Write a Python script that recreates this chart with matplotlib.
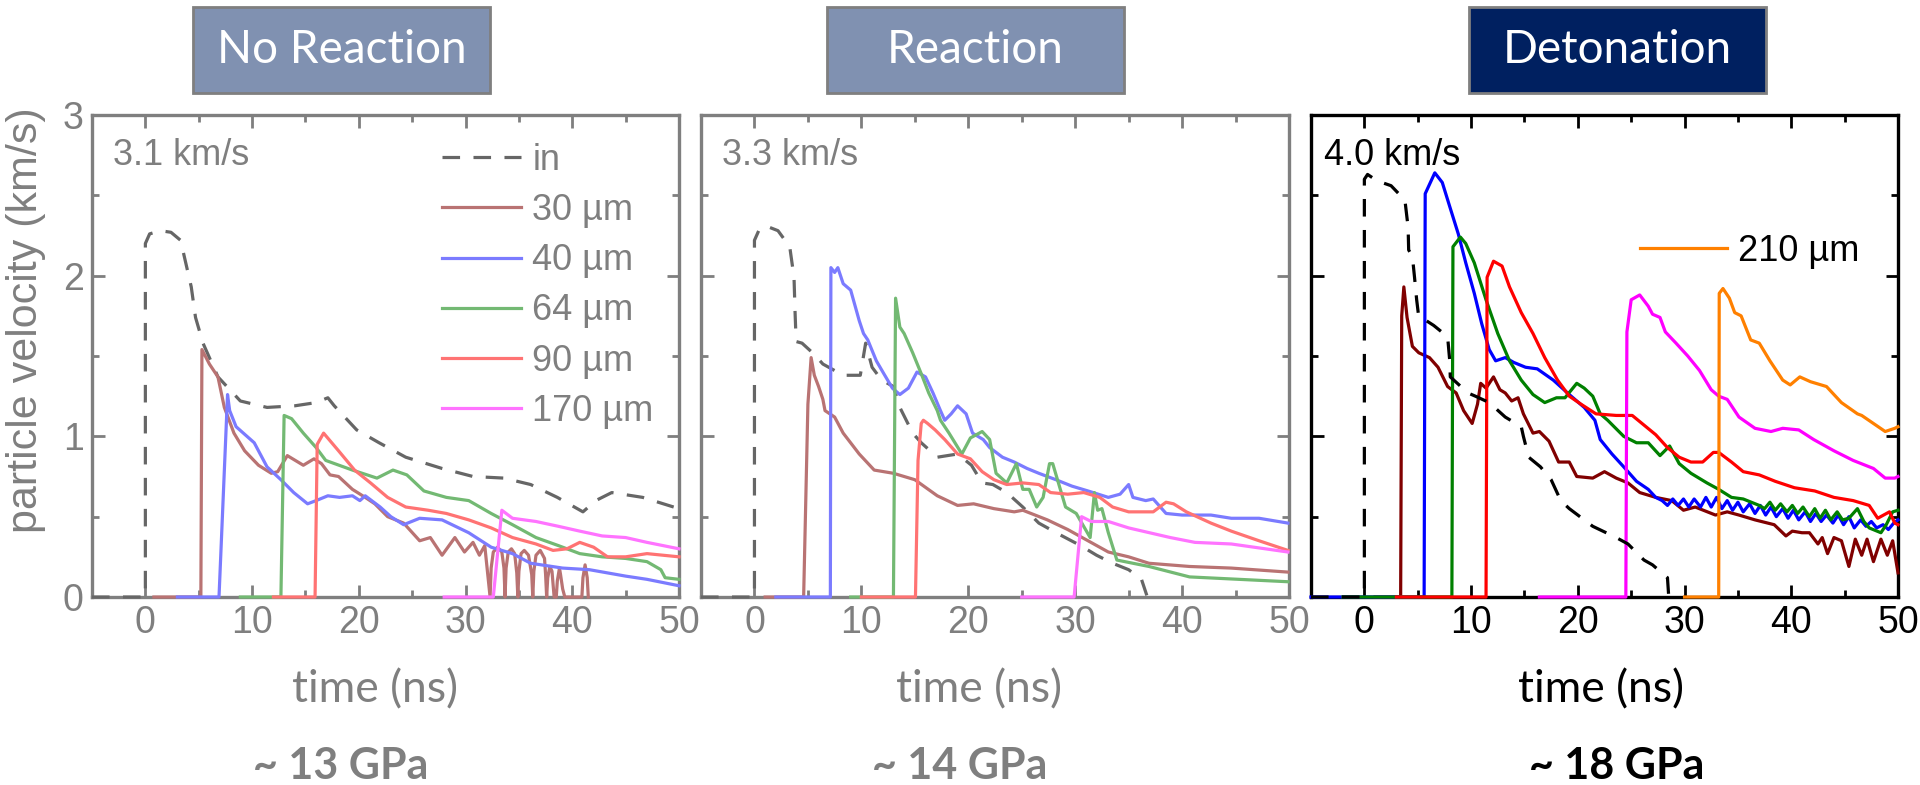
import matplotlib
matplotlib.use("Agg")
import matplotlib.pyplot as plt
from matplotlib.patches import Rectangle
from matplotlib.ticker import MultipleLocator

plt.rcParams["font.family"] = ["Liberation Sans", "DejaVu Sans"]

W, H = 1920, 785

# ---------------------------------------------------------------- data
# panel 1 : no reaction (3.1 km/s)
nr_in_t = [-5, 0, 0, 0.4, 1.4, 2.4, 3.3, 4.3, 4.7, 5.4, 6.8, 8.9, 11.4, 14.0, 16.0, 17.1,
           17.7, 19.8, 21.9, 24.4, 27.8, 30.7, 33.6, 36.1, 38.6, 41.0, 42.2, 43.7, 46.6, 49.5, 50]
nr_in_v = [0, 0, 2.20, 2.26, 2.28, 2.27, 2.22, 1.93, 1.74, 1.58, 1.37, 1.22, 1.18, 1.19, 1.21, 1.24,
           1.19, 1.04, 0.96, 0.87, 0.80, 0.75, 0.74, 0.70, 0.62, 0.53, 0.60, 0.65, 0.62, 0.56, 0.55]
nr_30_t = [0.8, 5.2, 5.3, 6.0, 6.8, 7.4, 8.3, 9.3, 10.6, 11.8, 12.4, 13.3, 14.8, 15.8, 16.5, 17.3,
           18.1, 19.4, 20.6, 21.5, 22.7, 24.2, 25.7, 26.7, 27.8, 29.0, 29.9, 30.7, 31.3, 31.8,
           32.3, 32.4, 32.6, 33.0, 33.4, 33.6, 33.7,
           33.8, 34.0, 34.3, 34.6, 34.8, 34.9,
           35.0, 35.2, 35.5, 35.9, 36.2, 36.3,
           36.4, 36.6, 37.0, 37.4, 37.5, 37.6,
           37.7, 37.9, 38.1, 38.3, 38.5, 38.6, 38.8, 38.9, 39.1, 39.3,
           40.9, 41.0, 41.2, 41.4, 41.5]
nr_30_v = [0, 0, 1.54, 1.45, 1.37, 1.18, 1.02, 0.91, 0.82, 0.77, 0.78, 0.88, 0.82, 0.86, 0.83, 0.76,
           0.75, 0.67, 0.62, 0.58, 0.50, 0.46, 0.35, 0.37, 0.26, 0.37, 0.28, 0.34, 0.26, 0.32,
           0.0, 0.18, 0.28, 0.31, 0.28, 0.18, 0.0,
           0.18, 0.28, 0.30, 0.27, 0.15, 0.0,
           0.16, 0.27, 0.29, 0.26, 0.14, 0.0,
           0.16, 0.26, 0.29, 0.24, 0.14, 0.0,
           0.12, 0.19, 0.16, 0.0, 0.0, 0.10, 0.18, 0.14, 0.05, 0.0,
           0.0, 0.12, 0.20, 0.12, 0.0]
nr_40_t = [3.0, 6.9, 7.7, 7.9, 8.5, 10.2, 11.4, 12.7, 13.9, 15.2, 16.0, 17.1, 18.2, 19.4, 20.1, 20.6,
           22.0, 23.0, 24.2, 25.7, 27.8, 30.3, 32.4, 34.4, 36.1, 39.1, 41.6, 45.0, 47.0, 50.0]
nr_40_v = [0, 0, 1.26, 1.16, 1.06, 0.96, 0.81, 0.73, 0.65, 0.58, 0.60, 0.63, 0.62, 0.63, 0.60, 0.63,
           0.56, 0.50, 0.45, 0.49, 0.48, 0.40, 0.31, 0.27, 0.21, 0.18, 0.17, 0.13, 0.11, 0.07]
nr_64_t = [8.9, 12.7, 13.0, 13.7, 14.8, 16.0, 16.9, 19.4, 21.7, 23.2, 24.5, 26.1, 28.2, 30.3, 32.4,
           34.4, 36.6, 38.7, 40.7, 42.8, 45.0, 47.0, 48.3, 48.7, 50.0]
nr_64_v = [0, 0, 1.13, 1.11, 1.02, 0.93, 0.85, 0.79, 0.74, 0.79, 0.76, 0.66, 0.62, 0.60, 0.52,
           0.45, 0.37, 0.32, 0.27, 0.25, 0.24, 0.22, 0.17, 0.12, 0.11]
nr_90_t = [12.0, 15.9, 16.1, 16.7, 18.1, 19.6, 21.1, 22.7, 24.4, 26.5, 28.2, 30.3, 32.4, 34.4, 36.6,
           38.2, 39.5, 40.7, 42.0, 43.3, 45.0, 47.0, 50.0]
nr_90_v = [0, 0, 0.95, 1.02, 0.91, 0.79, 0.71, 0.62, 0.56, 0.54, 0.52, 0.48, 0.43, 0.37, 0.33,
           0.29, 0.30, 0.34, 0.31, 0.25, 0.25, 0.27, 0.25]
nr_170_t = [28.0, 32.6, 33.4, 34.4, 36.6, 38.7, 40.7, 42.8, 45.0, 47.0, 50.0]
nr_170_v = [0, 0, 0.54, 0.49, 0.47, 0.44, 0.41, 0.38, 0.37, 0.34, 0.30]

# panel 2 : reaction (3.3 km/s)
re_in_t = [-5, 0, 0, 0.4, 1.05, 2.2, 3.3, 3.7, 3.8, 3.9, 4.45, 5.6, 6.4, 8.3, 9.9, 10.4, 11.0, 11.9,
           13.0, 13.6, 14.8, 15.6, 17.1, 19.0, 20.3, 21.3, 22.3, 23.6, 25.1, 26.6, 28.5, 30.5, 32.0,
           33.5, 35.0, 36.2, 36.7]
re_in_v = [0, 0, 2.22, 2.28, 2.31, 2.28, 2.18, 1.99, 1.77, 1.59, 1.58, 1.51, 1.45, 1.38, 1.38, 1.58,
           1.43, 1.35, 1.31, 1.18, 1.02, 0.96, 0.87, 0.89, 0.82, 0.71, 0.70, 0.65, 0.56, 0.46, 0.39,
           0.32, 0.26, 0.21, 0.17, 0.11, 0.01]
re_30_t = [1.0, 4.6, 4.8, 5.0, 5.3, 5.6, 6.0, 6.4, 6.6, 7.5, 8.3, 9.8, 11.2, 13.0, 15.0, 17.1, 19.0,
           20.5, 22.4, 24.3, 25.1, 27.4, 29.3, 31.2, 33.1, 35.0, 36.9, 40.7, 44.6, 49.9]
re_30_v = [0, 0, 0.6, 1.2, 1.49, 1.38, 1.31, 1.23, 1.16, 1.12, 1.02, 0.89, 0.79, 0.77, 0.73, 0.63,
           0.57, 0.58, 0.55, 0.53, 0.54, 0.48, 0.42, 0.35, 0.28, 0.25, 0.21, 0.19, 0.18, 0.155]
re_40_t = [2.0, 7.1, 7.15, 7.5, 7.8, 8.3, 9.0, 9.8, 10.2, 10.6, 11.4, 12.1, 12.9, 13.6, 14.4, 15.2,
           16.0, 16.7, 17.4, 17.8, 18.4, 19.0, 19.8, 20.4, 21.4, 22.0, 23.2, 24.3, 25.5, 26.6, 28.2,
           29.7, 31.2, 33.1, 34.2, 35.0, 35.4, 36.6, 37.3, 38.5, 40.0, 42.7, 44.6, 47.2, 49.9]
re_40_v = [0, 0, 2.05, 2.02, 2.05, 1.95, 1.91, 1.72, 1.64, 1.60, 1.47, 1.39, 1.30, 1.26, 1.30, 1.40,
           1.37, 1.27, 1.16, 1.10, 1.14, 1.19, 1.14, 1.02, 0.98, 0.93, 0.87, 0.84, 0.80, 0.77, 0.73,
           0.69, 0.66, 0.62, 0.64, 0.70, 0.62, 0.60, 0.61, 0.52, 0.51, 0.51, 0.49, 0.49, 0.46]
re_64_t = [9.0, 13.0, 13.2, 13.6, 14.0, 14.8, 15.6, 16.3, 17.1, 17.4, 18.2, 19.4, 20.2, 21.3, 22.0,
           22.6, 23.6, 24.5, 25.1, 25.7, 26.4, 27.0, 27.6, 27.9, 29.1, 30.1, 31.4, 31.8, 32.1, 32.5,
           33.1, 33.9, 36.9, 40.7, 49.9]
re_64_v = [0, 0, 1.86, 1.68, 1.64, 1.52, 1.39, 1.27, 1.16, 1.10, 1.02, 0.89, 0.99, 1.03, 0.98,
           0.77, 0.71, 0.83, 0.67, 0.67, 0.56, 0.62, 0.83, 0.83, 0.56, 0.52, 0.37, 0.65, 0.54, 0.55,
           0.40, 0.23, 0.19, 0.125, 0.095]
re_90_t = [10.0, 15.06, 15.3, 15.6, 15.8, 16.2, 16.9, 17.8, 19.0, 20.2, 21.3, 22.4, 23.6, 25.1, 26.6,
           27.7, 29.3, 30.8, 32.3, 33.5, 35.0, 37.3, 38.5, 39.2, 40.4, 42.7, 44.6, 47.2, 49.9]
re_90_v = [0, 0, 0.85, 1.08, 1.10, 1.08, 1.04, 0.98, 0.89, 0.86, 0.78, 0.73, 0.70, 0.71, 0.70,
           0.65, 0.64, 0.65, 0.62, 0.56, 0.53, 0.53, 0.59, 0.58, 0.53, 0.46, 0.41, 0.35, 0.29]
re_170_t = [25.0, 29.9, 30.6, 31.5, 33.1, 35.0, 38.9, 41.2, 44.6, 49.9]
re_170_v = [0, 0, 0.50, 0.47, 0.47, 0.43, 0.37, 0.34, 0.33, 0.28]

# panel 3 : detonation (4.0 km/s)
de_in_t = [-5, 0, 0, 0.3, 1.2, 2.5, 3.8, 4.1, 4.15, 4.5, 4.7, 4.9, 5.1, 5.8, 6.5, 7.8, 8.0, 8.05,
           9.7, 10.4, 11.7, 13.2, 14.7, 14.9, 15.4, 16.5, 17.5, 18.4, 19.2, 21.4, 23.6, 24.7, 26.2,
           27.0, 28.4, 28.5]
de_in_v = [0, 0, 2.60, 2.63, 2.59, 2.56, 2.47, 2.30, 2.16, 2.12, 1.99, 1.85, 1.74, 1.72, 1.69, 1.62,
           1.47, 1.37, 1.27, 1.25, 1.21, 1.12, 1.06, 1.00, 0.87, 0.81, 0.73, 0.60, 0.55, 0.44, 0.37,
           0.33, 0.23, 0.20, 0.12, 0.02]
de_30_t = [1.0, 3.4, 3.5, 3.7, 4.0, 4.5, 5.1, 6.1, 6.9, 7.8, 8.6, 9.3, 10.1, 10.6, 10.9, 11.4, 12.1,
           12.7, 13.2, 13.8, 14.4, 14.9, 15.8, 16.4, 17.3, 18.2, 19.2, 19.9, 21.4, 22.5, 23.6, 24.7,
           25.8, 27.3, 28.8, 29.9, 31.0, 32.9, 34.0, 35.1, 36.6, 38.4, 39.5, 40.1, 41.0, 41.7, 42.5,
           42.9, 43.4, 44.0, 44.7, 45.4, 46.0, 46.6, 47.1, 47.7, 48.4, 49.0, 49.5, 49.9, 50.0]
de_30_v = [0, 0, 1.75, 1.93, 1.74, 1.56, 1.52, 1.49, 1.43, 1.31, 1.27, 1.16, 1.08, 1.20, 1.33, 1.30,
           1.37, 1.29, 1.27, 1.22, 1.24, 1.14, 1.02, 1.03, 0.97, 0.84, 0.84, 0.75, 0.74, 0.78, 0.74,
           0.71, 0.65, 0.62, 0.60, 0.54, 0.56, 0.51, 0.53, 0.51, 0.48, 0.45, 0.38, 0.41, 0.40, 0.40,
           0.33, 0.37, 0.27, 0.37, 0.35, 0.19, 0.36, 0.26, 0.36, 0.22, 0.36, 0.26, 0.35, 0.19, 0.15]
de_40_t = [-5, 5.6, 5.7, 6.6, 7.3, 8.0, 8.8, 9.5, 10.3, 11.0, 11.7, 12.3, 13.2, 14.0, 15.1, 16.2,
           17.7, 19.2, 20.6, 21.6, 22.1, 23.2, 24.3, 25.5, 26.6, 27.3, 27.9, 28.4, 28.9, 29.4, 29.9,
           30.4, 30.9, 31.5, 32.0, 32.5, 33.0, 33.5, 34.0, 34.5, 35.0, 35.5, 36.1, 36.6, 37.1, 37.6,
           38.1, 38.6, 39.2, 39.7, 40.2, 40.7, 41.3, 41.8, 42.3, 42.8, 43.3, 43.9, 44.4, 44.9, 45.4,
           45.9, 46.5, 47.0, 47.5, 48.0, 48.6, 49.1, 49.6, 50.0]
de_40_v = [0, 0, 2.51, 2.64, 2.58, 2.43, 2.26, 2.08, 1.89, 1.70, 1.54, 1.47, 1.49, 1.46, 1.43, 1.42,
           1.35, 1.26, 1.18, 1.10, 0.98, 0.89, 0.81, 0.72, 0.67, 0.62, 0.60, 0.57, 0.61, 0.57, 0.61,
           0.56, 0.61, 0.56, 0.62, 0.56, 0.62, 0.55, 0.60, 0.54, 0.59, 0.53, 0.58, 0.52, 0.57, 0.51,
           0.56, 0.50, 0.55, 0.49, 0.54, 0.48, 0.53, 0.47, 0.52, 0.47, 0.51, 0.46, 0.51, 0.45, 0.50,
           0.43, 0.48, 0.44, 0.47, 0.43, 0.45, 0.42, 0.46, 0.48]
de_64_t = [-2, 8.2, 8.3, 9.0, 9.5, 10.3, 11.4, 12.5, 13.6, 14.7, 15.8, 16.9, 18.0, 18.8, 19.9, 20.6,
           21.4, 22.1, 22.8, 24.3, 25.5, 26.6, 27.7, 28.6, 29.5, 30.6, 32.1, 33.2, 34.4, 35.5, 37.0,
           37.5, 38.0, 38.5, 39.0, 39.6, 40.1, 40.6, 41.1, 41.7, 42.2, 42.7, 43.2, 43.7, 44.3, 44.8,
           45.4, 46.2, 46.8, 47.3, 48.4, 48.9, 49.5, 50.0]
de_64_v = [0, 0, 2.18, 2.24, 2.20, 2.08, 1.85, 1.64, 1.47, 1.35, 1.26, 1.21, 1.24, 1.24, 1.33, 1.30,
           1.25, 1.14, 1.10, 1.00, 0.96, 0.96, 0.88, 0.94, 0.83, 0.77, 0.71, 0.67, 0.62, 0.61, 0.57,
           0.55, 0.59, 0.54, 0.58, 0.53, 0.57, 0.52, 0.56, 0.50, 0.55, 0.49, 0.54, 0.48, 0.53, 0.48,
           0.49, 0.55, 0.47, 0.43, 0.40, 0.45, 0.53, 0.54]
de_90_t = [3.0, 11.4, 11.5, 12.1, 12.9, 13.6, 14.7, 15.8, 16.9, 18.1, 19.2, 20.3, 21.7, 23.6, 25.1,
           26.2, 27.3, 28.4, 29.5, 30.6, 31.7, 32.7, 33.2, 34.4, 35.5, 37.0, 38.5, 40.3, 42.2, 44.0,
           45.8, 47.3, 48.1, 49.2, 49.7, 50.0]
de_90_v = [0, 0, 1.99, 2.09, 2.06, 1.93, 1.77, 1.64, 1.49, 1.35, 1.25, 1.20, 1.14, 1.13, 1.13,
           1.07, 1.01, 0.93, 0.87, 0.84, 0.84, 0.90, 0.90, 0.84, 0.78, 0.76, 0.72, 0.68, 0.66, 0.62,
           0.60, 0.57, 0.49, 0.53, 0.46, 0.45]
de_170_t = [16.4, 24.5, 24.6, 25.0, 25.8, 26.6, 27.0, 27.7, 28.2, 29.2, 30.3, 31.4, 32.5, 33.2, 34.0,
            35.1, 36.6, 38.1, 39.2, 40.7, 42.1, 44.0, 45.8, 47.7, 48.8, 49.7, 50.0]
de_170_v = [0, 0, 1.65, 1.85, 1.88, 1.81, 1.76, 1.74, 1.65, 1.58, 1.50, 1.41, 1.29, 1.25, 1.23,
            1.12, 1.05, 1.03, 1.05, 1.04, 0.98, 0.91, 0.85, 0.80, 0.74, 0.74, 0.75]
de_210_t = [30.0, 33.2, 33.25, 33.6, 34.2, 34.7, 35.3, 36.2, 37.0, 38.0, 39.2, 39.9, 40.8, 41.8,
            43.3, 44.7, 46.2, 46.6, 47.7, 48.8, 49.7, 50.0]
de_210_v = [0, 0, 1.89, 1.92, 1.86, 1.77, 1.75, 1.60, 1.58, 1.47, 1.35, 1.32, 1.37, 1.34, 1.31,
            1.21, 1.14, 1.13, 1.08, 1.03, 1.05, 1.06]

labels = ["30 µm", "40 µm", "64 µm", "90 µm", "170 µm", "210 µm"]
panel_titles = ["No Reaction", "Reaction", "Detonation"]
pressures = ["~ 13 GPa", "~ 14 GPa", "~ 18 GPa"]
speeds = ["3.1 km/s", "3.3 km/s", "4.0 km/s"]

# ---------------------------------------------------------------- style
GREY = "#7f7f7f"
faded = ["#b97373", "#7b7bff", "#73b973", "#ff7373", "#ff73ff"]
strong = ["#800000", "#0000ff", "#008000", "#ff0000", "#ff00ff", "#ff8000"]
DASH = (0, (5.5, 4.2))
CAL = ["Lato", "DejaVu Sans"]

fig = plt.figure(figsize=(W / 100, H / 100), dpi=100)


def px_axes(x0, x1, y0=115, y1=597):
    return fig.add_axes([x0 / W, 1 - y1 / H, (x1 - x0) / W, (y1 - y0) / H])


def style(ax, col, ylabels):
    ax.set_xlim(-5, 50)
    ax.set_ylim(0, 3)
    ax.xaxis.set_major_locator(MultipleLocator(10))
    ax.xaxis.set_minor_locator(MultipleLocator(5))
    ax.yaxis.set_major_locator(MultipleLocator(1))
    ax.yaxis.set_minor_locator(MultipleLocator(0.5))
    ax.tick_params(which="both", direction="in", top=True, right=True,
                   color=col, width=2, labelcolor=col, labelsize=27, pad=6)
    ax.tick_params(which="major", length=9)
    ax.tick_params(which="minor", length=5)
    for sp in ax.spines.values():
        sp.set_color(col)
        sp.set_linewidth(2.4)
    if not ylabels:
        ax.set_yticklabels([])


ax1 = px_axes(92, 679)
ax2 = px_axes(701, 1289)
ax3 = px_axes(1311, 1898)

kw = dict(lw=2.3, clip_on=False, zorder=3)

# panel 1
style(ax1, GREY, True)
ax1.plot(nr_in_t, nr_in_v, color="#666666", ls=DASH, label="in", **kw)
for (t, v), c, lab in zip([(nr_30_t, nr_30_v), (nr_40_t, nr_40_v), (nr_64_t, nr_64_v),
                           (nr_90_t, nr_90_v), (nr_170_t, nr_170_v)], faded, labels):
    ax1.plot(t, v, color=c, label=lab, **kw)
leg = ax1.legend(loc="upper left", bbox_to_anchor=(0.596, 0.942), frameon=False, fontsize=26,
                 handlelength=2.2, handletextpad=0.3, labelspacing=0.42, borderpad=0,
                 borderaxespad=0)
for txt in leg.get_texts():
    txt.set_color(GREY)

# panel 2
style(ax2, GREY, False)
ax2.plot(re_in_t, re_in_v, color="#666666", ls=DASH, **kw)
for (t, v), c in zip([(re_30_t, re_30_v), (re_40_t, re_40_v), (re_64_t, re_64_v),
                      (re_90_t, re_90_v), (re_170_t, re_170_v)], faded):
    ax2.plot(t, v, color=c, **kw)

# panel 3
style(ax3, "black", False)
h210 = None
for (t, v), c in zip([(de_30_t, de_30_v), (de_40_t, de_40_v), (de_64_t, de_64_v),
                      (de_90_t, de_90_v), (de_170_t, de_170_v), (de_210_t, de_210_v)], strong):
    h210, = ax3.plot(t, v, color=c, **kw)
ax3.plot(de_in_t, de_in_v, color="black", ls=DASH, **kw)
ax3.legend([h210], [labels[5]], loc="upper left", bbox_to_anchor=(0.561, 0.753), frameon=False,
           fontsize=26, handlelength=2.4, handletextpad=0.3, borderpad=0, borderaxespad=0)

# speed annotations
for ax, s, c in zip([ax1, ax2, ax3], speeds, [GREY, GREY, "black"]):
    ax.text(0.035 if ax is not ax3 else 0.022, 0.915, s, transform=ax.transAxes,
            fontsize=26, color=c, va="center", ha="left")

# boxes on top
boxes = [(193, 490, "#8091b1"), (827, 1124, "#8091b1"), (1469, 1766, "#002060")]
for (x0, x1, fc), title in zip(boxes, panel_titles):
    fig.add_artist(Rectangle((x0 / W, 1 - 93 / H), (x1 - x0) / W, 86 / H,
                             transform=fig.transFigure, fc=fc, ec=GREY, lw=2))
    fig.text((x0 + x1) / 2 / W, 1 - 50 / H, title, ha="center", va="center",
             color="white", fontsize=33, family=CAL)

# axis labels and pressures
for xc, c in zip([375, 979, 1601], [GREY, GREY, "black"]):
    fig.text(xc / W, 1 - 690 / H, "time (ns)", ha="center", va="center",
             color=c, fontsize=32, family=CAL)
for xc, p, c in zip([341, 960, 1617], pressures, [GREY, GREY, "black"]):
    fig.text(xc / W, 1 - 766 / H, p, ha="center", va="center", color=c,
             fontsize=31, fontweight="bold", family=CAL)
fig.text(26 / W, 1 - 320 / H, "particle velocity (km/s)", rotation=90, ha="center",
         va="center", color=GREY, fontsize=31)

fig.savefig("out.png", dpi=100)
